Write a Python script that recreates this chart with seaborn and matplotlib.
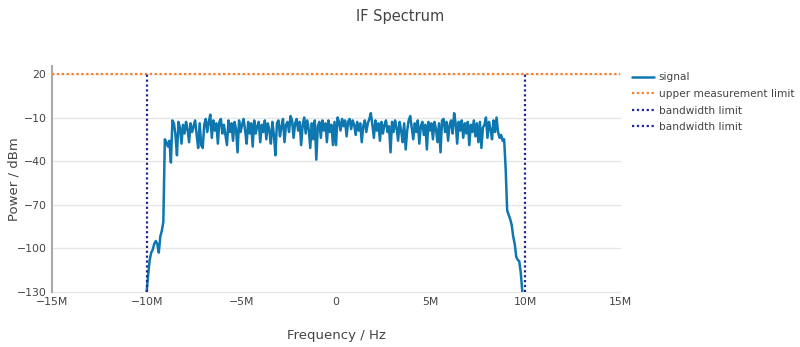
import numpy as np
import pandas as pd
import matplotlib
matplotlib.use("Agg")
import matplotlib.pyplot as plt
import seaborn as sns

# ---- data ----
freq_start_hz = -10.0e6
freq_step_hz = 0.08e6

edge_left = [-130, -118, -108, -103, -101, -97, -95, -97, -103, -92, -88, -82,
             -25, -27, -30, -26, -41]
band = [
    -12, -14, -22, -36, -13, -17, -28, -15, -21, -13,
    -18, -27, -14, -20, -16, -12, -22, -31, -14, -29,
    -31, -15, -11, -20, -13, -8, -24, -12, -19, -14,
    -28, -13, -11, -21, -15, -22, -29, -12, -20, -14,
    -26, -13, -18, -34, -12, -20, -15, -11, -19, -28,
    -13, -21, -14, -30, -12, -21, -16, -13, -27, -15,
    -20, -12, -25, -14, -19, -28, -13, -22, -36, -14,
    -12, -23, -16, -11, -27, -15, -13, -20, -9, -12,
    -24, -14, -11, -19, -13, -29, -15, -10, -21, -12,
    -18, -31, -14, -25, -12, -39, -16, -13, -24, -12,
    -19, -14, -27, -12, -20, -15, -29, -13, -29, -10,
    -13, -19, -11, -16, -12, -23, -13, -11, -18, -12,
    -15, -22, -13, -19, -14, -27, -16, -12, -20, -14,
    -11, -7, -15, -24, -12, -19, -14, -26, -13, -21,
    -15, -12, -20, -16, -34, -13, -20, -12, -17, -26,
    -13, -19, -27, -14, -32, -19, -12, -9, -17, -25,
    -14, -20, -12, -28, -16, -13, -22, -15, -32, -13,
    -19, -14, -25, -13, -18, -27, -14, -34, -12, -11,
    -20, -13, -26, -15, -12, -21, -7, -14, -28, -13,
    -19, -12, -24, -14, -21, -13, -29, -15, -20, -12,
    -23, -14, -27, -13, -31, -17, -15, -10, -24, -13,
    -18, -25, -12, -20, -10, -20, -24, -22, -26, -25,
]
edge_right = [-45, -74, -77, -80, -84, -92, -97, -106, -108, -109, -117, -130]

signal_dbm = edge_left + band + edge_right
signal_freq = freq_start_hz + freq_step_hz * np.arange(len(signal_dbm))

upper_limit_dbm = 20
upper_limit_freq = [-15e6, 15e6]
bw_low_hz = -10e6
bw_high_hz = 10e6
bw_power = [-130, 20]

x_ticks = [-15e6, -10e6, -5e6, 0, 5e6, 10e6, 15e6]
x_tick_labels = ["\u221215M", "\u221210M", "\u22125M", "0", "5M", "10M", "15M"]
y_ticks = [20, -10, -40, -70, -100, -130]
y_tick_labels = ["20", "\u221210", "\u221240", "\u221270", "\u2212100", "\u2212130"]

# ---- plot ----
sns.set_theme(style="white")
plt.rcParams["font.family"] = ["DejaVu Sans"]

fig = plt.figure(figsize=(8.0, 3.47), dpi=100)
ax = fig.add_axes([0.065, 0.159, 0.71, 0.651])

sig_df = pd.DataFrame({"f": signal_freq, "p": signal_dbm})
sns.lineplot(data=sig_df, x="f", y="p", ax=ax, color="#0f77b0", lw=1.8,
             label="signal", zorder=3)
sns.lineplot(x=upper_limit_freq, y=[upper_limit_dbm] * 2, ax=ax, color="#f6802a",
             lw=1.6, linestyle=(0, (1, 1.2)), label="upper measurement limit", zorder=4)
sns.lineplot(x=[bw_low_hz] * 2, y=bw_power, ax=ax, color="#25259a", lw=1.6,
             linestyle=(0, (1, 1.2)), label="bandwidth limit", zorder=4,
             sort=False, estimator=None)
sns.lineplot(x=[bw_high_hz] * 2, y=bw_power, ax=ax, color="#25259a", lw=1.6,
             linestyle=(0, (1, 1.2)), label="bandwidth limit", zorder=4,
             sort=False, estimator=None)

ax.set_xlim(-15e6, 15e6)
ax.set_ylim(-130, 25.5)
ax.set_xticks(x_ticks)
ax.set_xticklabels(x_tick_labels)
ax.set_yticks(y_ticks)
ax.set_yticklabels(y_tick_labels)
ax.tick_params(axis="both", labelsize=7.8, colors="#444444", length=0)
ax.tick_params(axis="x", pad=4)
ax.tick_params(axis="y", pad=4)
ax.grid(axis="y", color="#e6e6e6", lw=1)
ax.grid(axis="x", visible=False)
for gl in ax.yaxis.get_gridlines():
    gl.set_clip_on(False)
for s in ["top", "right", "bottom"]:
    ax.spines[s].set_visible(False)
ax.spines["left"].set_color("#aaaaaa")
ax.spines["left"].set_linewidth(1.5)

ax.set_xlabel("Frequency / Hz", fontsize=9.5, color="#444444")
ax.xaxis.set_label_coords(0.5, -0.165)
ax.set_ylabel("Power / dBm", fontsize=9.5, color="#444444")
ax.yaxis.set_label_coords(-0.056, 0.5)
fig.suptitle("IF Spectrum", x=0.5, y=0.975, fontsize=10.5, color="#444444")

leg = ax.legend(loc="upper left", bbox_to_anchor=(1.013, 0.99), frameon=False,
                fontsize=7.6, handlelength=2.1, handletextpad=0.45,
                labelspacing=0.62, borderaxespad=0)
for t in leg.get_texts():
    t.set_color("#444444")

fig.savefig("out.png", dpi=100)
